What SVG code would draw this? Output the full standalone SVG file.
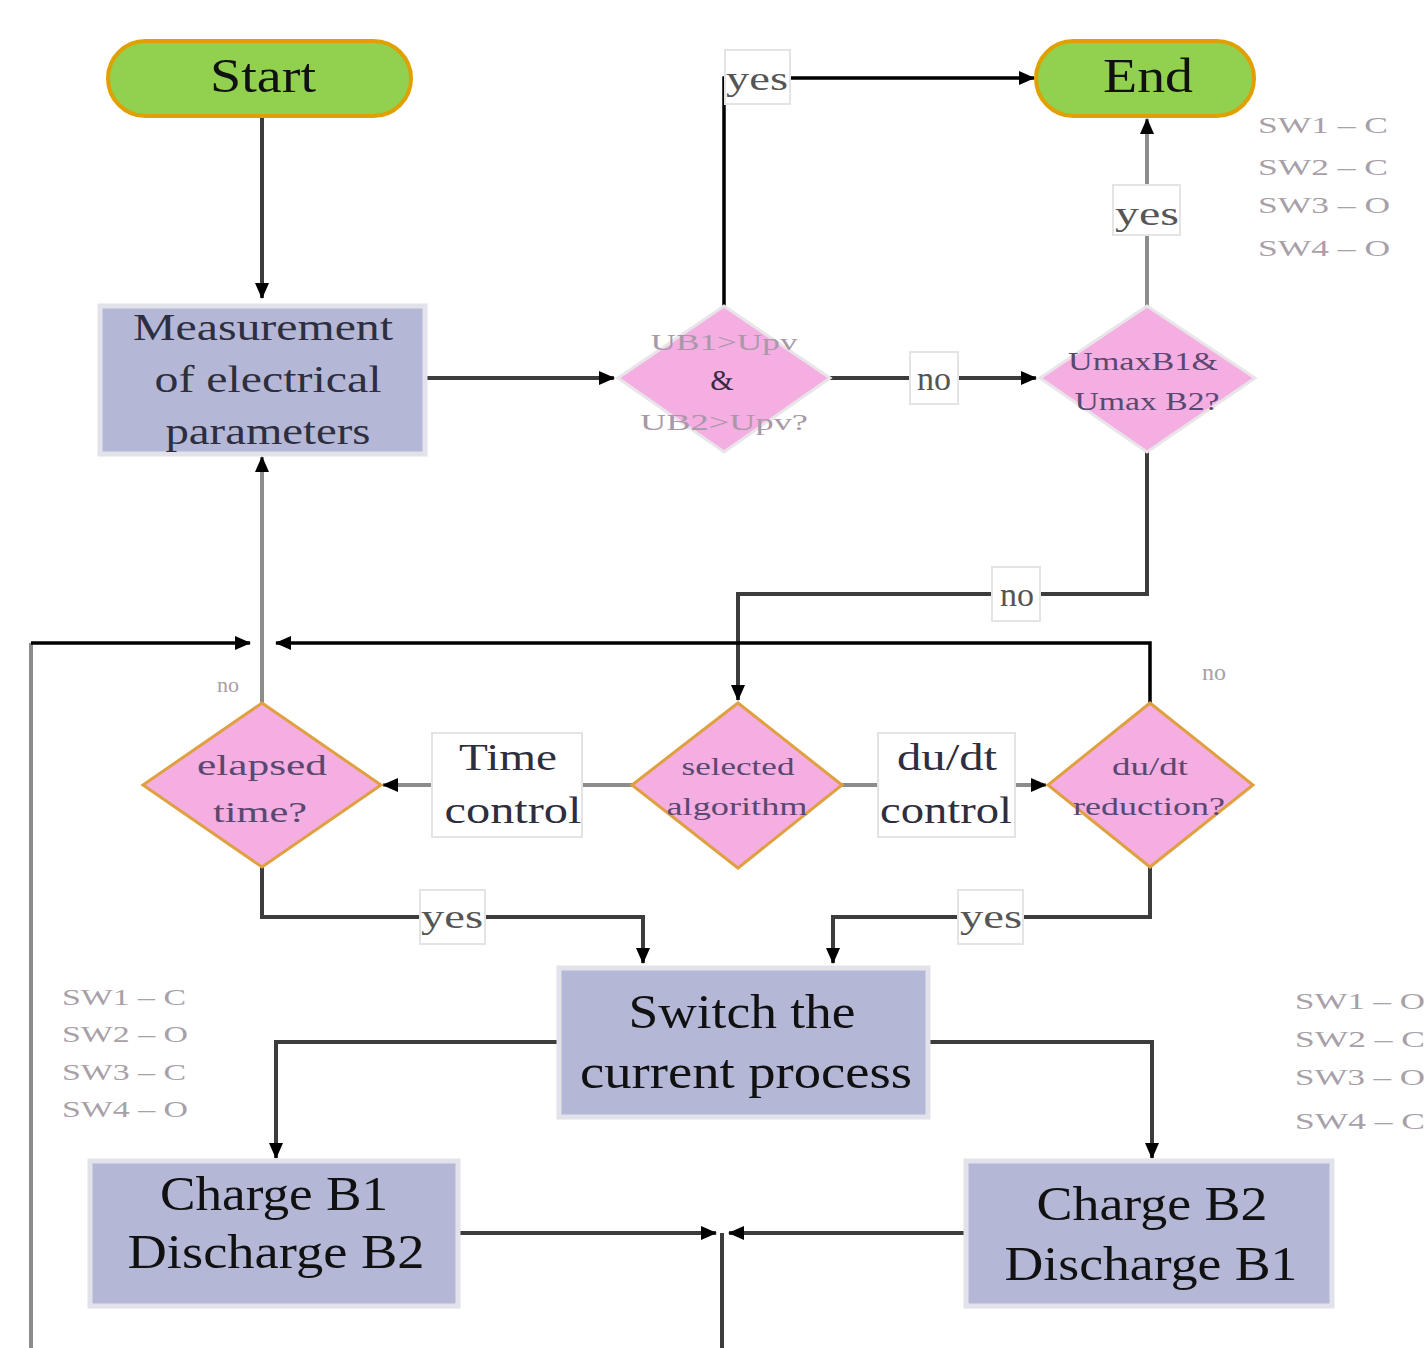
<svg xmlns="http://www.w3.org/2000/svg" width="1424" height="1348" viewBox="0 0 1424 1348">
<defs>
<marker id="arr" markerWidth="16" markerHeight="14" refX="15" refY="7" orient="auto" markerUnits="userSpaceOnUse"><path d="M0,0 L16,7 L0,14 z" fill="#000"/></marker>
<style>
.term{fill:#92d050;stroke:#e0a000;stroke-width:4}
.box{fill:#b4b8d6;stroke:#e2e2ea;stroke-width:5}
.dtop{fill:#f4aee2;stroke:#e8e4e8;stroke-width:3}
.dmid{fill:#f4aee2;stroke:#e0a040;stroke-width:3}
.t{font-family:"Liberation Serif","Times New Roman",serif;text-anchor:middle}
.big{font-size:48px;fill:#111}
.mid{font-size:38px;fill:#2e2e3e}
.lbl{font-size:34px;fill:#555}
.dt{font-size:26px;fill:#5a4870}
.faint{font-size:24px;fill:#a898a8}
.sw{font-family:"Liberation Serif","Times New Roman",serif;font-size:24px;fill:#a8a0a8}
.c{fill:none;stroke:#3c3c3c;stroke-width:4}
.g{fill:none;stroke:#8c8c8c;stroke-width:4}
.k{fill:none;stroke:#000;stroke-width:3.5}
.lb{fill:#fff;stroke:#e4e4e4;stroke-width:2}
</style>
</defs>
<rect width="1424" height="1348" fill="#fff"/>

<g id="connectors">
<path class="c" d="M262,117 V298" marker-end="url(#arr)"/>
<path class="c" d="M425,378 H614" marker-end="url(#arr)"/>
<path class="k" d="M724,306 V78 H1034" marker-end="url(#arr)"/>
<path class="c" d="M830,378 H1036" marker-end="url(#arr)"/>
<path class="g" d="M1147,306 V119" marker-end="url(#arr)"/>
<path class="c" d="M1147,452 V594 H738 V700" marker-end="url(#arr)"/>
<path class="k" d="M1150,703 V643 H276" marker-end="url(#arr)"/>
<path class="g" d="M31,1348 V643"/>
<path class="k" d="M31,643 H250" marker-end="url(#arr)"/>
<path class="g" d="M262,703 V457" marker-end="url(#arr)"/>
<path class="g" d="M632,785 H383" marker-end="url(#arr)"/>
<path class="g" d="M842,785 H1046" marker-end="url(#arr)"/>
<path class="c" d="M262,867 V917 H643 V963" marker-end="url(#arr)"/>
<path class="c" d="M1150,867 V917 H833 V963" marker-end="url(#arr)"/>
<path class="c" d="M557,1042 H276 V1158" marker-end="url(#arr)"/>
<path class="c" d="M930,1042 H1152 V1158" marker-end="url(#arr)"/>
<path class="c" d="M460,1233 H716" marker-end="url(#arr)"/>
<path class="c" d="M965,1233 H729" marker-end="url(#arr)"/>
<path class="c" d="M722,1233 V1348"/>
</g>

<g id="labels">
<rect class="lb" x="725" y="50" width="65" height="54"/>
<text class="t lbl" x="757" y="90" textLength="62" lengthAdjust="spacingAndGlyphs">yes</text>
<rect class="lb" x="910" y="352" width="48" height="52"/>
<text class="t lbl" x="934" y="390">no</text>
<rect class="lb" x="1113" y="185" width="67" height="50"/>
<text class="t lbl" x="1147" y="225" textLength="64" lengthAdjust="spacingAndGlyphs">yes</text>
<rect class="lb" x="992" y="567" width="48" height="54"/>
<text class="t lbl" x="1017" y="606">no</text>
<text class="t" x="228" y="692" style="font-size:22px;fill:#a8a0a8">no</text>
<text class="t" x="1214" y="680" style="font-size:24px;fill:#a8a0a8">no</text>
<rect class="lb" x="432" y="733" width="150" height="104"/>
<text class="t mid" x="508" y="770" textLength="98" lengthAdjust="spacingAndGlyphs">Time</text>
<text class="t mid" x="513" y="823" textLength="137" lengthAdjust="spacingAndGlyphs">control</text>
<rect class="lb" x="878" y="733" width="137" height="104"/>
<text class="t mid" x="947" y="770" textLength="100" lengthAdjust="spacingAndGlyphs">du/dt</text>
<text class="t mid" x="946" y="823" textLength="132" lengthAdjust="spacingAndGlyphs">control</text>
<rect class="lb" x="420" y="890" width="65" height="54"/>
<text class="t lbl" x="452" y="928" textLength="62" lengthAdjust="spacingAndGlyphs">yes</text>
<rect class="lb" x="958" y="890" width="65" height="54"/>
<text class="t lbl" x="991" y="928" textLength="62" lengthAdjust="spacingAndGlyphs">yes</text>
<text class="sw" x="1258" y="133" textLength="130" lengthAdjust="spacingAndGlyphs">SW1 – C</text>
<text class="sw" x="1258" y="175" textLength="130" lengthAdjust="spacingAndGlyphs">SW2 – C</text>
<text class="sw" x="1258" y="213" textLength="132" lengthAdjust="spacingAndGlyphs">SW3 – O</text>
<text class="sw" x="1258" y="256" textLength="132" lengthAdjust="spacingAndGlyphs">SW4 – O</text>
<text class="sw" x="62" y="1005" textLength="124" lengthAdjust="spacingAndGlyphs">SW1 – C</text>
<text class="sw" x="62" y="1042" textLength="126" lengthAdjust="spacingAndGlyphs">SW2 – O</text>
<text class="sw" x="62" y="1080" textLength="124" lengthAdjust="spacingAndGlyphs">SW3 – C</text>
<text class="sw" x="62" y="1117" textLength="126" lengthAdjust="spacingAndGlyphs">SW4 – O</text>
<text class="sw" x="1295" y="1009" textLength="130" lengthAdjust="spacingAndGlyphs">SW1 – O</text>
<text class="sw" x="1295" y="1047" textLength="130" lengthAdjust="spacingAndGlyphs">SW2 – C</text>
<text class="sw" x="1295" y="1085" textLength="130" lengthAdjust="spacingAndGlyphs">SW3 – O</text>
<text class="sw" x="1295" y="1129" textLength="130" lengthAdjust="spacingAndGlyphs">SW4 – C</text>
</g>

<g id="start">
<rect class="term" x="108" y="41" width="303" height="75" rx="37.5"/>
<text class="t big" x="263" y="92" textLength="106" lengthAdjust="spacingAndGlyphs">Start</text>
</g>
<g id="end">
<rect class="term" x="1036" y="41" width="218" height="75" rx="37.5"/>
<text class="t big" x="1148" y="92" textLength="90" lengthAdjust="spacingAndGlyphs">End</text>
</g>
<g id="measurement">
<rect class="box" x="100" y="306" width="325" height="148"/>
<text class="t mid" x="263" y="340" textLength="260" lengthAdjust="spacingAndGlyphs">Measurement</text>
<text class="t mid" x="268" y="392" textLength="227" lengthAdjust="spacingAndGlyphs">of electrical</text>
<text class="t mid" x="268" y="444" textLength="205" lengthAdjust="spacingAndGlyphs">parameters</text>
</g>
<g id="ub-check">
<polygon class="dtop" points="724,306 830,378 724,452 618,378"/>
<text class="t faint" x="724" y="350" textLength="147" lengthAdjust="spacingAndGlyphs">UB1&gt;Upv</text>
<text class="t" x="722" y="390" style="font-size:30px;fill:#3a2a40">&amp;</text>
<text class="t faint" x="724" y="430" textLength="168" lengthAdjust="spacingAndGlyphs">UB2&gt;Upv?</text>
</g>
<g id="umax-check">
<polygon class="dtop" points="1147,306 1255,378 1147,452 1040,378"/>
<text class="t dt" x="1143" y="370" textLength="150" lengthAdjust="spacingAndGlyphs">UmaxB1&amp;</text>
<text class="t dt" x="1147" y="410" textLength="145" lengthAdjust="spacingAndGlyphs">Umax B2?</text>
</g>
<g id="elapsed">
<polygon class="dmid" points="262,703 381,785 262,867 143,785"/>
<text class="t dt" x="262" y="775" textLength="130" lengthAdjust="spacingAndGlyphs" style="font-size:30px">elapsed</text>
<text class="t dt" x="260" y="822" textLength="94" lengthAdjust="spacingAndGlyphs" style="font-size:30px">time?</text>
</g>
<g id="selected">
<polygon class="dmid" points="738,703 842,785 738,868 632,785"/>
<text class="t dt" x="738" y="775" textLength="113" lengthAdjust="spacingAndGlyphs">selected</text>
<text class="t dt" x="737" y="815" textLength="141" lengthAdjust="spacingAndGlyphs">algorithm</text>
</g>
<g id="dudt">
<polygon class="dmid" points="1150,703 1253,785 1150,867 1048,785"/>
<text class="t dt" x="1150" y="775" textLength="76" lengthAdjust="spacingAndGlyphs">du/dt</text>
<text class="t dt" x="1149" y="815" textLength="152" lengthAdjust="spacingAndGlyphs">reduction?</text>
</g>
<g id="switch">
<rect class="box" x="559" y="968" width="369" height="149"/>
<text class="t big" x="742" y="1028" textLength="227" lengthAdjust="spacingAndGlyphs">Switch the</text>
<text class="t big" x="746" y="1088" textLength="332" lengthAdjust="spacingAndGlyphs">current process</text>
</g>
<g id="charge-b1">
<rect class="box" x="90" y="1161" width="368" height="145"/>
<text class="t big" x="274" y="1210" textLength="228" lengthAdjust="spacingAndGlyphs">Charge B1</text>
<text class="t big" x="276" y="1268" textLength="297" lengthAdjust="spacingAndGlyphs">Discharge B2</text>
</g>
<g id="charge-b2">
<rect class="box" x="966" y="1161" width="366" height="145"/>
<text class="t big" x="1152" y="1220" textLength="231" lengthAdjust="spacingAndGlyphs">Charge B2</text>
<text class="t big" x="1151" y="1280" textLength="293" lengthAdjust="spacingAndGlyphs">Discharge B1</text>
</g>
</svg>
